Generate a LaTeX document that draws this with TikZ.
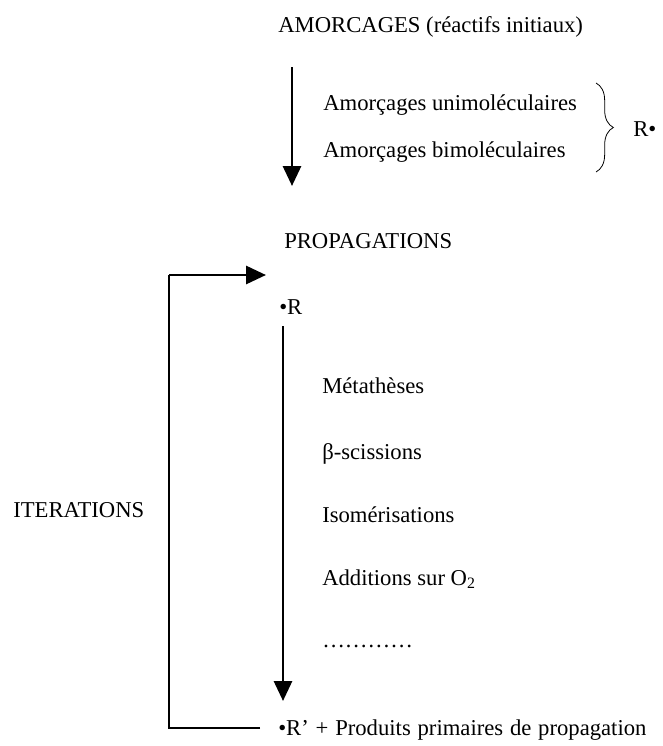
\documentclass[tikz,border=0pt]{standalone}
\usepackage{fontspec}
\setmainfont{Liberation Serif}
\usetikzlibrary{arrows.meta, positioning, decorations.pathreplacing}
\tikzstyle{txt} = [anchor=base west, inner sep=0pt, font=\fontsize{17}{20}\selectfont]
\tikzstyle{arrow} = [line width=2.2pt, -{Triangle[width=13.5pt,length=15pt]}]
\tikzstyle{loopline} = [line width=2.2pt]

\begin{document}
\begin{tikzpicture}[x=0.75pt, y=-0.75pt]
\useasboundingbox (0,0) rectangle (663,746);

% Amorcages
\node (amorc) [txt] at (278,32) {AMORCAGES (réactifs initiaux)};
\node (uni) [txt] at (323,110) {Amorçages unimoléculaires};
\node (bi) [txt] at (323,157) {Amorçages bimoléculaires};
\node (rad1) [txt] at (633,136) {R\textbullet};
\coordinate (a1top) at (292,67);
\coordinate (a1end) at (292,186);
\draw [arrow] (a1top) -- (a1end);
\draw [line width=0.6pt, decorate, decoration={brace, amplitude=13pt}] (596,83) -- (596,172);

% Propagations
\node (prop) [txt] at (284,248) {PROPAGATIONS};
\node (rad2) [txt] at (279,314) {\textbullet R};
\coordinate (a2top) at (283,326);
\coordinate (a2end) at (283,701);
\draw [arrow] (a2top) -- (a2end);
\node (meta) [txt] at (322,393) {Métathèses};
\node (beta) [txt] at (322,459) {β-scissions};
\node (isom) [txt] at (322,522) {Isomérisations};
\node (addo) [txt] at (322,585) {Additions sur O\textsubscript{2}};
\node (dots) [txt] at (322,647) {…………};
\node (prod) [txt] at (278,735) {\spaceskip=0.3em plus 0.1em\relax\textbullet R’ + Produits primaires de propagation};

% Iterations
\node (iter) [txt] at (13,517) {ITERATIONS};
\coordinate (loopstart) at (260,728);
\coordinate (loopcorner) at (169,275);
\coordinate (loopend) at (266,275);
\draw [loopline] (loopstart) -| (loopcorner);
\draw [arrow] (loopcorner) -- (loopend);

\end{tikzpicture}
\end{document}
